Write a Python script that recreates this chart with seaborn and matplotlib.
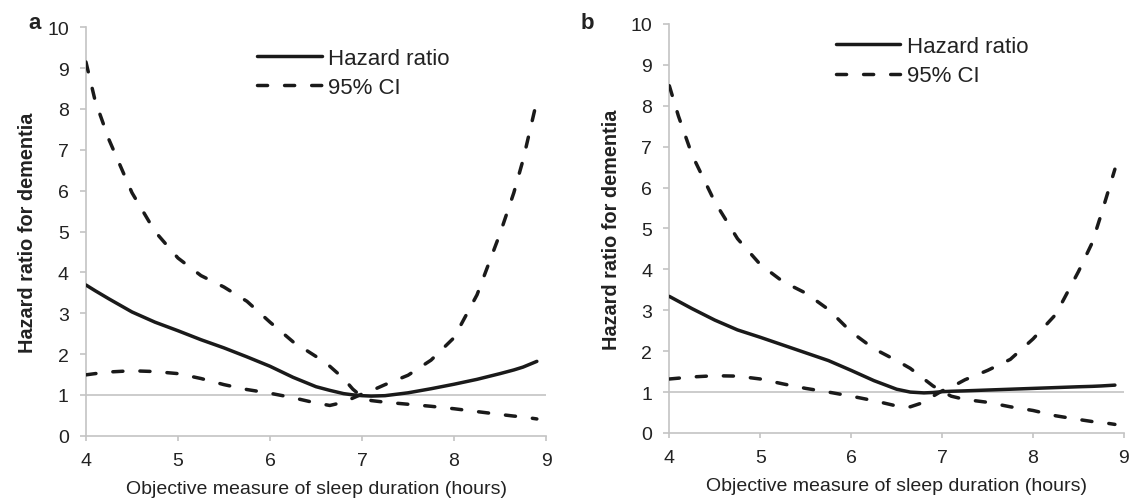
import numpy as np
import pandas as pd
import matplotlib
matplotlib.use("Agg")
import matplotlib.pyplot as plt
import seaborn as sns

# =========================
# DATA
# =========================
sleep_hours = [4.0, 4.1, 4.25, 4.5, 4.75, 5.0, 5.25, 5.5, 5.75, 6.0, 6.25, 6.5,
               6.65, 6.8, 6.9, 7.0, 7.1, 7.25, 7.5, 7.75, 8.0, 8.25, 8.5, 8.65,
               8.75, 8.9]

# panel a
hr_a = [3.69, 3.55, 3.35, 3.03, 2.78, 2.57, 2.35, 2.15, 1.93, 1.70, 1.43, 1.20,
        1.11, 1.03, 1.00, 0.98, 0.97, 0.98, 1.05, 1.15, 1.26, 1.38, 1.52, 1.61,
        1.68, 1.82]
ci1_a = [9.15, 8.20, 7.25, 5.95, 5.00, 4.35, 3.92, 3.64, 3.29, 2.78, 2.30, 1.94,
         1.70, 1.40, 1.14, 0.95, 0.86, 0.82, 0.77, 0.72, 0.66, 0.59, 0.52, 0.48,
         0.46, 0.41]
ci2_a = [1.49, 1.52, 1.56, 1.59, 1.57, 1.52, 1.40, 1.25, 1.13, 1.04, 0.93, 0.80,
         0.74, 0.82, 0.92, 1.02, 1.10, 1.25, 1.48, 1.85, 2.40, 3.45, 4.95, 5.95,
         6.75, 8.20]

# panel b
hr_b = [3.34, 3.22, 3.04, 2.76, 2.52, 2.34, 2.15, 1.96, 1.77, 1.53, 1.28, 1.07,
        1.00, 0.98, 0.99, 1.01, 1.02, 1.03, 1.05, 1.07, 1.09, 1.11, 1.13, 1.14,
        1.15, 1.17]
ci1_b = [8.49, 7.75, 6.80, 5.65, 4.75, 4.12, 3.70, 3.42, 3.02, 2.47, 2.06, 1.77,
         1.58, 1.32, 1.15, 1.02, 0.90, 0.82, 0.75, 0.64, 0.55, 0.42, 0.33, 0.28,
         0.26, 0.21]
ci2_b = [1.32, 1.34, 1.37, 1.40, 1.39, 1.32, 1.20, 1.09, 1.00, 0.90, 0.79, 0.66,
         0.64, 0.75, 0.90, 1.03, 1.12, 1.30, 1.53, 1.80, 2.30, 2.90, 3.95, 4.65,
         5.35, 6.45]

panel_letters = ["a", "b"]
y_ticks = list(range(0, 11))
x_ticks = [4, 5, 6, 7, 8, 9]

# =========================
# STYLE
# =========================
sns.set_theme(style="white")
plt.rcParams["font.family"] = ["Liberation Sans", "DejaVu Sans"]

AXIS_GRAY = "#c4c4c4"
TEXT = "#222222"
DASH = (0, (2.9, 4.9))

fig = plt.figure(figsize=(11.31, 5.02), dpi=100)
ax_a = fig.add_axes([0.0760, 0.1301, 0.4068, 0.8135])
ax_b = fig.add_axes([0.5918, 0.1355, 0.4020, 0.8147])

panels = [
    (ax_a, hr_a, ci1_a, ci2_a, (0.372, 0.950), 0.0255),
    (ax_b, hr_b, ci1_b, ci2_b, (0.366, 0.970), 0.513),
]

for (ax, hr, ci1, ci2, leg_pos, letter_x), letter in zip(panels, panel_letters):
    df = pd.DataFrame({"x": sleep_hours, "hr": hr, "ci1": ci1, "ci2": ci2})

    ax.axhline(1, color=AXIS_GRAY, lw=1.2, zorder=1)

    sns.lineplot(data=df, x="x", y="hr", ax=ax, color="#1a1a1a", lw=2.5,
                 estimator=None, label="Hazard ratio", zorder=3)
    sns.lineplot(data=df, x="x", y="ci1", ax=ax, color="#1a1a1a", lw=2.5,
                 estimator=None, linestyle=DASH, dash_capstyle="round",
                 label="95% CI", zorder=3)
    sns.lineplot(data=df, x="x", y="ci2", ax=ax, color="#1a1a1a", lw=2.5,
                 estimator=None, linestyle=DASH, dash_capstyle="round",
                 zorder=3)

    ax.set_xlim(4, 9)
    ax.set_ylim(0, 10)
    ax.set_xticks(x_ticks)
    ax.set_yticks(y_ticks)

    sns.despine(ax=ax)
    for side in ["left", "bottom"]:
        ax.spines[side].set_color(AXIS_GRAY)
        ax.spines[side].set_linewidth(1.2)

    ax.tick_params(axis="x", which="major", direction="out", length=3.5,
                   width=1.2, color=AXIS_GRAY, labelsize=14, labelcolor=TEXT,
                   pad=8, bottom=True)
    ax.tick_params(axis="y", which="major", direction="out", length=4.3,
                   width=1.2, color=AXIS_GRAY, labelsize=14, labelcolor=TEXT,
                   pad=8, left=True)

    ax.set_xlabel("Objective measure of sleep duration (hours)", fontsize=14,
                  color=TEXT)
    ax.set_ylabel("Hazard ratio for dementia", fontsize=14.3,
                  fontweight="bold", color=TEXT)
    ax.xaxis.set_label_coords(0.5, -0.108)
    ax.yaxis.set_label_coords(-0.107, 0.5)

    ax.legend(loc="upper left", bbox_to_anchor=leg_pos, frameon=False,
              fontsize=16, handlelength=2.9, handletextpad=0.3,
              labelspacing=0.37, borderpad=0, borderaxespad=0,
              labelcolor=TEXT)

    fig.text(letter_x, 1 - 29 / 502, letter, fontsize=16, fontweight="bold",
             color=TEXT, va="baseline", ha="left")

fig.savefig("out.png", dpi=100)
